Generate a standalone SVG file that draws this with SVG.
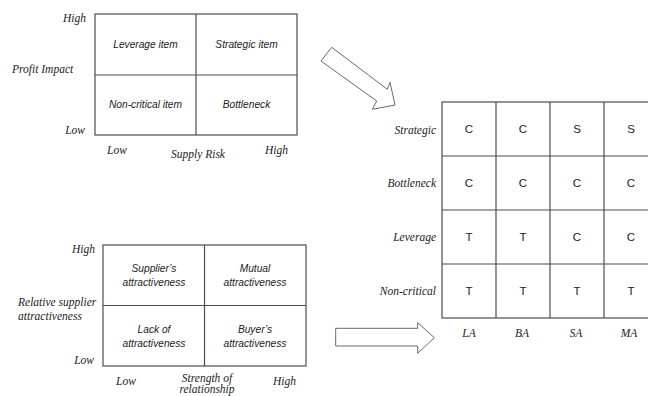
<svg xmlns="http://www.w3.org/2000/svg" width="648" height="396" viewBox="0 0 648 396">
<style>
.ln{fill:none;stroke:#4d4d4d;stroke-width:1.2}
.ar{fill:#fff;stroke:#6a6a6a;stroke-width:1}
.lab{font-family:"Liberation Serif","Times New Roman",serif;font-style:italic;font-size:11.5px;fill:#222}
.cell{font-family:"Liberation Sans",Arial,sans-serif;font-style:italic;font-size:10.2px;fill:#222;text-anchor:middle}
.let{font-family:"Liberation Sans",Arial,sans-serif;font-size:11.5px;fill:#222;text-anchor:middle}
.r{text-anchor:end}
.m{text-anchor:middle}
</style>
<rect width="648" height="396" fill="#fff"/>

<g id="kraljic">
<rect class="ln" x="95" y="14" width="202" height="121"/>
<line class="ln" x1="196" y1="14" x2="196" y2="135"/>
<line class="ln" x1="95" y1="75" x2="297" y2="75"/>
<text class="cell" x="145.5" y="48">Leverage item</text>
<text class="cell" x="246.5" y="48">Strategic item</text>
<text class="cell" x="145.5" y="108">Non-critical item</text>
<text class="cell" x="246.5" y="108">Bottleneck</text>
<text class="lab r" x="86" y="22">High</text>
<text class="lab" x="12" y="73">Profit Impact</text>
<text class="lab r" x="85" y="134">Low</text>
<text class="lab" x="107" y="154">Low</text>
<text class="lab m" x="198" y="158">Supply Risk</text>
<text class="lab" x="265" y="154">High</text>
</g>

<g id="attractiveness">
<rect class="ln" x="103" y="245" width="203" height="121"/>
<line class="ln" x1="204.5" y1="245" x2="204.5" y2="366"/>
<line class="ln" x1="103" y1="305.5" x2="306" y2="305.5"/>
<text class="cell" x="154" y="272">Supplier’s</text>
<text class="cell" x="154" y="286">attractiveness</text>
<text class="cell" x="255" y="272">Mutual</text>
<text class="cell" x="255" y="286">attractiveness</text>
<text class="cell" x="154" y="333">Lack of</text>
<text class="cell" x="154" y="347">attractiveness</text>
<text class="cell" x="255" y="333">Buyer’s</text>
<text class="cell" x="255" y="347">attractiveness</text>
<text class="lab r" x="95" y="253">High</text>
<text class="lab" x="18" y="306">Relative supplier</text>
<text class="lab" x="18" y="320">attractiveness</text>
<text class="lab r" x="94" y="364">Low</text>
<text class="lab" x="116" y="385">Low</text>
<text class="lab m" x="207" y="382">Strength of</text>
<text class="lab m" x="207" y="393">relationship</text>
<text class="lab" x="273" y="385">High</text>
</g>

<g id="matrix">
<rect class="ln" x="442" y="102" width="216" height="216"/>
<line class="ln" x1="496" y1="102" x2="496" y2="318"/>
<line class="ln" x1="550" y1="102" x2="550" y2="318"/>
<line class="ln" x1="604" y1="102" x2="604" y2="318"/>
<line class="ln" x1="442" y1="156" x2="658" y2="156"/>
<line class="ln" x1="442" y1="210" x2="658" y2="210"/>
<line class="ln" x1="442" y1="264" x2="658" y2="264"/>
<text class="lab r" x="436" y="134">Strategic</text>
<text class="lab r" x="436" y="187">Bottleneck</text>
<text class="lab r" x="436" y="241">Leverage</text>
<text class="lab r" x="436" y="295">Non-critical</text>
<text class="let" x="469" y="133">C</text>
<text class="let" x="523" y="133">C</text>
<text class="let" x="577" y="133">S</text>
<text class="let" x="631" y="133">S</text>
<text class="let" x="469" y="187">C</text>
<text class="let" x="523" y="187">C</text>
<text class="let" x="577" y="187">C</text>
<text class="let" x="631" y="187">C</text>
<text class="let" x="469" y="241">T</text>
<text class="let" x="523" y="241">T</text>
<text class="let" x="577" y="241">C</text>
<text class="let" x="631" y="241">C</text>
<text class="let" x="469" y="295">T</text>
<text class="let" x="523" y="295">T</text>
<text class="let" x="577" y="295">T</text>
<text class="let" x="631" y="295">T</text>
<text class="lab m" x="469" y="337">LA</text>
<text class="lab m" x="522" y="337">BA</text>
<text class="lab m" x="576" y="337">SA</text>
<text class="lab m" x="629" y="337">MA</text>
</g>

<g id="connectors">
<polygon class="ar" points="331.7,47.3 387.3,89.3 390,82.3 395,105 372.3,109.3 376.7,101 321,61"/>
<polygon class="ar" points="335.7,328.3 417.7,328.3 417.7,322.7 434.3,337.7 417.7,353.3 417.7,346 335.7,346"/>
</g>
</svg>
